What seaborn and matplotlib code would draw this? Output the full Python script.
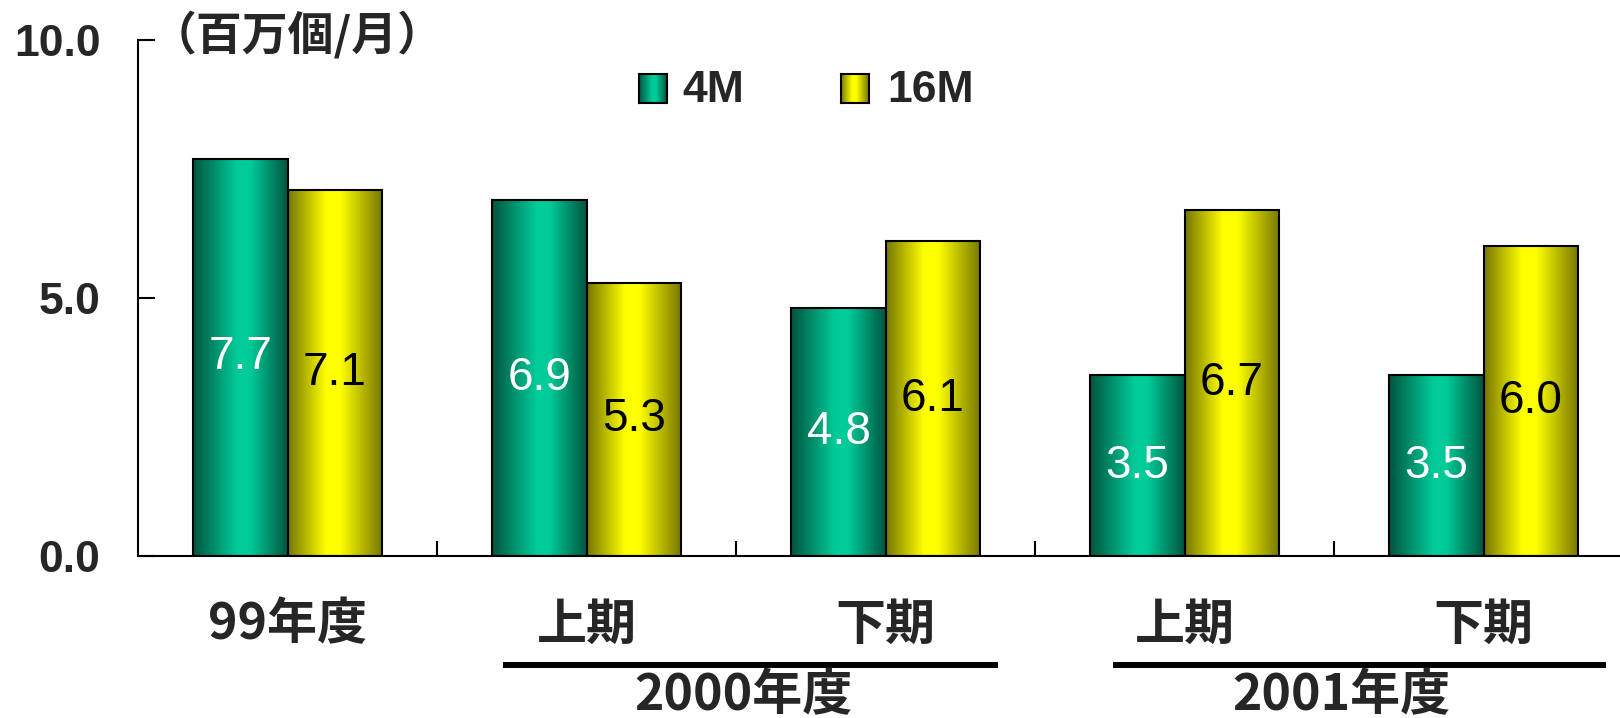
import numpy as np
import pandas as pd
import matplotlib
matplotlib.use("Agg")
import matplotlib.pyplot as plt
import seaborn as sns
from matplotlib.colors import LinearSegmentedColormap

# ---- data ----
categories = ["99年度", "2000上期", "2000下期", "2001上期", "2001下期"]
tick_labels = ["99年度", "上期", "下期", "上期", "下期"]
series_names = ["4M", "16M"]
values_4m = [7.7, 6.9, 4.8, 3.5, 3.5]
values_16m = [7.1, 5.3, 6.1, 6.7, 6.0]
year_names = ["2000年度", "2001年度"]
year_members = [(1, 2), (3, 4)]
y_ticks = [0, 5, 10]
y_tick_labels = ["0.0", "5.0", "10.0"]
unit_label = "（百万個/月）"

# underline extents beyond the first/last member of each year group (category units)
underline_pad = [(0.28, 0.376), (0.24, 0.41)]

df = pd.DataFrame({
    "period": categories * 2,
    "series": [series_names[0]] * len(categories) + [series_names[1]] * len(categories),
    "value": values_4m + values_16m,
})

sns.set_style("white")
plt.rcParams["font.family"] = ["Liberation Sans", "Noto Sans CJK JP", "DejaVu Sans"]
CJK = ["Noto Sans CJK JP", "DejaVu Sans"]

W, H = 1620, 718
fig = plt.figure(figsize=(W / 100, H / 100), dpi=100)
ax = fig.add_axes([138 / W, 162 / H, 1 - 138 / W, 516 / H])

sns.barplot(data=df, x="period", y="value", hue="series", hue_order=series_names,
            order=categories, width=0.63, ax=ax, legend=False,
            palette=["#00cc99", "#ffff00"], saturation=1,
            edgecolor="black", linewidth=1.5)

green_cmap = LinearSegmentedColormap.from_list(
    "g", [(0, "#00553f"), (0.47, "#00cc99"), (0.6, "#00cc99"), (1, "#00553f")])
yellow_cmap = LinearSegmentedColormap.from_list(
    "y", [(0, "#767600"), (0.4, "#ffff00"), (0.55, "#ffff00"), (1, "#767600")])
cmaps = [green_cmap, yellow_cmap]
label_colors = ["white", "black"]
grad = np.linspace(0, 1, 256).reshape(1, -1)

for ci, cont in enumerate(ax.containers[:2]):
    for bar in cont:
        x0, y0 = bar.get_x(), bar.get_y()
        w, h = bar.get_width(), bar.get_height()
        im = ax.imshow(grad, cmap=cmaps[ci], extent=[x0, x0 + w, y0, y0 + h],
                       aspect="auto", interpolation="bicubic", vmin=0, vmax=1,
                       zorder=bar.get_zorder())
        im.set_clip_path(bar)
        bar.set_facecolor("none")
        bar.set_zorder(bar.get_zorder() + 0.1)
        ax.text(x0 + w / 2, y0 + h / 2, f"{h:.1f}", ha="center", va="center",
                fontsize=33, color=label_colors[ci], zorder=5)

ax.set_ylim(0, 10)
ax.set_xlim(-0.5, 4.456)
ax.set_xlabel("")
ax.set_ylabel("")
ax.set_yticks(y_ticks, y_tick_labels, fontsize=32, fontweight="bold")
ax.set_xticks([i + 0.5 for i in range(len(categories) - 1)], [""] * (len(categories) - 1))
ax.tick_params(axis="y", direction="in", length=12, width=1.5, pad=27, color="black", left=True)
ax.tick_params(axis="x", direction="in", length=11, width=1.5, color="black", bottom=True)
for s in ["top", "right"]:
    ax.spines[s].set_visible(False)
for s in ["left", "bottom"]:
    ax.spines[s].set_color("black")
    ax.spines[s].set_linewidth(1.5)

tr = ax.get_xaxis_transform()
for i, lab in enumerate(tick_labels):
    ax.text(i, -0.1337, lab, transform=tr, ha="center", va="center",
            fontsize=36, fontweight="bold", family=CJK, clip_on=False)

for name, (i0, i1), (pl, pr) in zip(year_names, year_members, underline_pad):
    ax.plot([i0 - pl, i1 + pr], [-0.211, -0.211], transform=tr, color="black", lw=4.3,
            clip_on=False, solid_capstyle="butt")
    ax.text((i0 + i1) / 2 + 0.025, -0.27, name, transform=tr, ha="center", va="center",
            fontsize=36, fontweight="bold", family=CJK, clip_on=False)

fig.text(151 / W, 1 - 36 / H, unit_label, ha="left", va="center",
         fontsize=33, fontweight="bold", family=CJK)

# legend
leg_items = [(series_names[0], 639, 682, green_cmap), (series_names[1], 841, 887, yellow_cmap)]
for name, sx, tx, cm in leg_items:
    lax = fig.add_axes([sx / W, (H - 103) / H, 28 / W, 29 / H])
    lax.imshow(grad, cmap=cm, aspect="auto", interpolation="bicubic", vmin=0, vmax=1)
    lax.set_xticks([])
    lax.set_yticks([])
    for sp in lax.spines.values():
        sp.set_visible(True)
        sp.set_color("black")
        sp.set_linewidth(1.5)
    fig.text(tx / W, 1 - 90 / H, name, ha="left", va="center",
             fontsize=32, fontweight="bold")

fig.savefig("out.png", dpi=100)
